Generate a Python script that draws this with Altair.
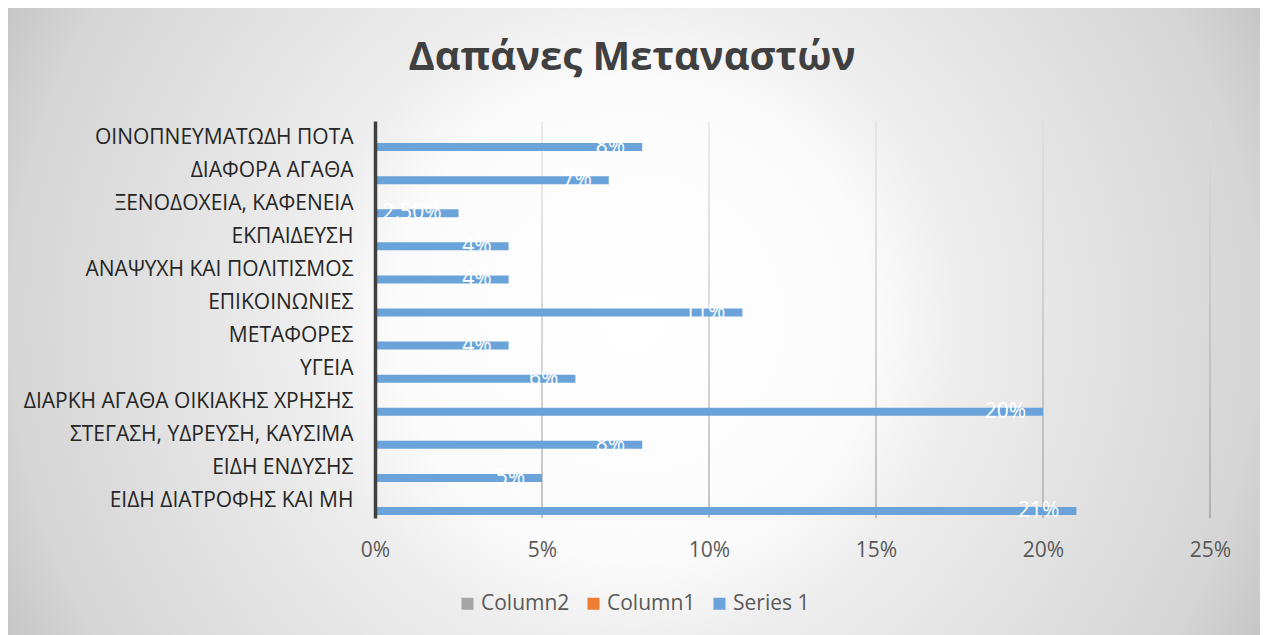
import altair as alt
import pandas as pd

# ---- data ----
categories = [
    "ΟΙΝΟΠΝΕΥΜΑΤΩΔΗ ΠΟΤΑ",
    "ΔΙΑΦΟΡΑ ΑΓΑΘΑ",
    "ΞΕΝΟΔΟΧΕΙΑ, ΚΑΦΕΝΕΙΑ",
    "ΕΚΠΑΙΔΕΥΣΗ",
    "ΑΝΑΨΥΧΗ ΚΑΙ ΠΟΛΙΤΙΣΜΟΣ",
    "ΕΠΙΚΟΙΝΩΝΙΕΣ",
    "ΜΕΤΑΦΟΡΕΣ",
    "ΥΓΕΙΑ",
    "ΔΙΑΡΚΗ ΑΓΑΘΑ ΟΙΚΙΑΚΗΣ ΧΡΗΣΗΣ",
    "ΣΤΕΓΑΣΗ, ΥΔΡΕΥΣΗ, ΚΑΥΣΙΜΑ",
    "ΕΙΔΗ ΕΝΔΥΣΗΣ",
    "ΕΙΔΗ ΔΙΑΤΡΟΦΗΣ ΚΑΙ ΜΗ",
]
values = [0.08, 0.07, 0.025, 0.04, 0.04, 0.11, 0.04, 0.06, 0.20, 0.08, 0.05, 0.21]
labels = ["8%", "7%", "2.50%", "4%", "4%", "11%", "4%", "6%", "20%", "8%", "5%", "21%"]
series_names = ["Column2", "Column1", "Series 1"]
series_colors = ["#A5A5A5", "#ED7D31", "#6AA3DA"]
x_ticks = [0, 0.05, 0.10, 0.15, 0.20, 0.25]
grid_values = [0.05, 0.10, 0.15, 0.20, 0.25]
title_text = "Δαπάνες Μεταναστών"

FONT = "Open Sans"
FS = 21
W, H = 835, 397
PAD = {"left": 367, "top": 113, "right": 50, "bottom": 117}

df = pd.DataFrame({
    "category": categories,
    "value": values,
    "label": labels,
    "series": ["Series 1"] * len(categories),
})
grid_df = pd.DataFrame({"g": grid_values})

xscale = alt.Scale(domain=[0, 0.25], nice=False, zero=True)
xaxis = alt.Axis(values=x_ticks, format=".0%", grid=False, domain=False, ticks=False,
                 labelFontSize=FS, labelColor="#595959", labelFont=FONT,
                 labelPadding=21, labelFlush=False, title=None, zindex=1)
yscale = alt.Scale(paddingInner=0, paddingOuter=0)
yaxis = alt.Axis(grid=False, ticks=False, domain=True, domainColor="#404040",
                 domainWidth=3.5, labelFontSize=FS, labelColor="#262626",
                 labelFont=FONT, labelPadding=22, title=None, zindex=1,
                 labelLimit=400)

bg_gradient = alt.RadialGradient(
    gradient="radial", x1=0.5, y1=0.5, r1=0, x2=0.5, y2=0.5, r2=0.56,
    stops=[
        alt.GradientStop(offset=0, color="#ffffff"),
        alt.GradientStop(offset=0.34, color="#fbfbfb"),
        alt.GradientStop(offset=0.46, color="#eeeeee"),
        alt.GradientStop(offset=0.89, color="#d5d5d5"),
        alt.GradientStop(offset=1, color="#c6c6c6"),
    ],
)
bg = alt.Chart(alt.Data(values=[{}])).mark_rect(fill=bg_gradient).encode(
    x=alt.value(-367), x2=alt.value(885), y=alt.value(-426), y2=alt.value(827)
)

grid_gradient = alt.LinearGradient(
    gradient="linear", x1=0, y1=0, x2=0, y2=1,
    stops=[
        alt.GradientStop(offset=0, color="#dcdcdc"),
        alt.GradientStop(offset=1, color="#8c8c8c"),
    ],
)
grid = alt.Chart(grid_df).mark_tick(thickness=1, size=H, opacity=1, fill=grid_gradient).encode(
    x=alt.X("g:Q", scale=xscale, axis=xaxis)
)

bars = alt.Chart(df).mark_bar(height=8, yOffset=9.5).encode(
    x=alt.X("value:Q", scale=xscale, axis=xaxis),
    y=alt.Y("category:N", sort=categories, scale=yscale, axis=yaxis),
    color=alt.Color(
        "series:N",
        scale=alt.Scale(domain=series_names, range=series_colors),
        legend=alt.Legend(
            orient="none", legendX=82, legendY=472, direction="horizontal",
            title=None, symbolType="square", symbolSize=144, symbolStrokeWidth=0,
            labelFontSize=FS, labelColor="#595959", labelFont=FONT,
            columnPadding=13, labelOffset=3,
        ),
    ),
)

text = alt.Chart(df).mark_text(
    align="right", baseline="middle", dx=-17, yOffset=9.5,
    color="white", fontSize=FS, font=FONT,
).encode(
    x=alt.X("value:Q", scale=xscale, axis=xaxis),
    y=alt.Y("category:N", sort=categories, scale=yscale, axis=yaxis),
    text="label:N",
)

title = alt.Chart(alt.Data(values=[{}])).mark_text(
    align="center", baseline="alphabetic", fontSize=40, fontWeight="bold",
    font=FONT, color="#404040",
).encode(x=alt.value(257), y=alt.value(-51), text=alt.value(title_text))

chart = alt.layer(bg, grid, bars, text, title).properties(
    width=W, height=H, padding=PAD,
    autosize=alt.AutoSizeParams(type="none"),
).configure(background="white").configure_view(stroke=None)

chart.save("out.html", embed_options={"renderer": "svg", "actions": False})
